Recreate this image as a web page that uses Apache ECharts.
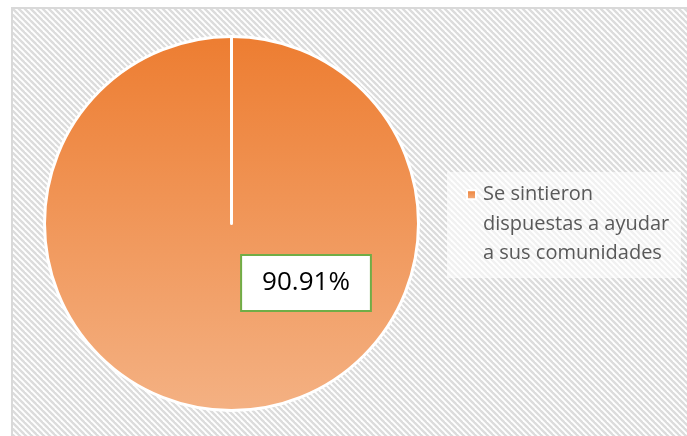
<!DOCTYPE html>
<html>
<head>
<meta charset="utf-8">
<script src="https://cdn.jsdelivr.net/npm/echarts@6/dist/echarts.min.js"></script>
<style>
  html, body { margin: 0; padding: 0; background: #fff; overflow: hidden; }
  #chart {
    position: absolute;
    left: 11px;
    top: 7px;
    width: 700px;
    height: 450px;
    border-left: 2px solid #d9d9d9;
    border-top: 2px solid #d9d9d9;
  }
</style>
</head>
<body>
<div id="chart"></div>
<script>
  // data
  const categories = ["Se sintieron\ndispuestas a ayudar\na sus comunidades"];
  const values = [90.91];
  const labels = ["90.91%"];

  // hatched background tile (wide downward diagonal)
  const tile = document.createElement("canvas");
  tile.width = 6;
  tile.height = 6;
  const ctx = tile.getContext("2d");
  ctx.fillStyle = "#ffffff";
  ctx.fillRect(0, 0, 6, 6);
  ctx.strokeStyle = "#dcdcdc";
  ctx.lineWidth = 2.4;
  for (let k = -1; k <= 1; k++) {
    ctx.beginPath();
    ctx.moveTo(k * 6 - 6, -6);
    ctx.lineTo(k * 6 + 12, 12);
    ctx.stroke();
  }

  const orange = new echarts.graphic.LinearGradient(0, 0, 0, 1, [
    { offset: 0, color: "#ED7D31" },
    { offset: 1, color: "#F4B183" },
  ]);

  const pieData = categories.map((name, i) => ({
    name: name,
    value: values[i],
    label: { formatter: labels[i] },
  }));
  // zero-size slice so the white slice border is drawn at the start angle
  pieData.push({ name: "", value: 0, label: { show: false } });

  const myChart = echarts.init(document.getElementById("chart"));
  const option = {
    animation: false,
    backgroundColor: { image: tile, repeat: "repeat" },
    graphic: [
      {
        type: "rect",
        left: 434,
        top: 163,
        shape: { width: 234, height: 106 },
        style: { fill: "rgba(255,255,255,0.6)" },
        silent: true,
        z: 0,
      },
    ],
    legend: {
      data: categories,
      orient: "vertical",
      left: 453,
      top: 112,
      padding: 0,
      itemWidth: 9,
      itemHeight: 9,
      itemGap: 5,
      selectedMode: false,
      icon: "rect",
      // two empty lines first so the marker sits beside the first text line
      formatter: (name) => "\n\n" + name,
      textStyle: {
        fontFamily: "Open Sans",
        fontSize: 20,
        lineHeight: 29.5,
        color: "#595959",
        padding: [0, 0, 0, 2],
      },
    },
    series: [
      {
        type: "pie",
        center: [218.5, 214.5],
        radius: [0, 187],
        startAngle: 90,
        clockwise: true,
        avoidLabelOverlap: false,
        emphasis: { disabled: true },
        itemStyle: {
          color: orange,
          borderColor: "#ffffff",
          borderWidth: 3,
        },
        label: {
          show: true,
          position: "center",
          offset: [74.5, 59.5],
          fontFamily: "Open Sans",
          fontSize: 26,
          lineHeight: 30,
          color: "#000000",
          backgroundColor: "#ffffff",
          borderColor: "#70AD47",
          borderWidth: 2,
          padding: [12, 20],
        },
        labelLine: { show: false },
        data: pieData,
      },
    ],
  };
  myChart.setOption(option);
</script>
</body>
</html>
